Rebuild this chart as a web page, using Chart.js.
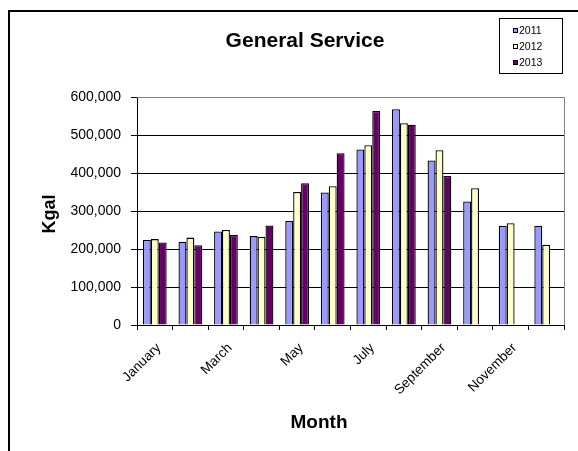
<!DOCTYPE html>
<html>
<head>
<meta charset="utf-8">
<script src="https://cdn.jsdelivr.net/npm/chart.js@4/dist/chart.umd.min.js"></script>
<style>
html,body{margin:0;padding:0;background:#fff;}
#wrap{position:relative;width:578px;height:451px;}
canvas{display:block;}
</style>
</head>
<body>
<div id="wrap"><canvas id="c" width="578" height="451"></canvas></div>
<script>
const months = ["January","February","March","April","May","June","July","August","September","October","November","December"];
const seriesNames = ["2011","2012","2013"];
const values2011 = [224000,219000,246000,234000,274000,349000,462000,568000,433000,325000,261000,261000];
const values2012 = [226000,230000,250000,232000,350000,365000,473000,531000,460000,360000,268000,211000];
const values2013 = [217000,210000,237000,262000,373000,452000,563000,527000,392000,null,null,null];
const yTicks = [0,100000,200000,300000,400000,500000,600000];
const colors = ["#9999FF","#FFFFCC","#660066"];

const FONT = "'Liberation Sans', Arial, sans-serif";

const decor = {
  id: 'decor',
  afterDraw(chart) {
    const ctx = chart.ctx;
    const a = chart.chartArea;
    ctx.save();
    ctx.strokeStyle = '#000';
    ctx.lineWidth = 2;
    ctx.beginPath();
    ctx.moveTo(9, 460); ctx.lineTo(9, 11); ctx.lineTo(590, 11);
    ctx.stroke();
    ctx.lineWidth = 1;
    ctx.strokeStyle = '#808080';
    ctx.beginPath();
    ctx.moveTo(a.left, a.top + 0.5); ctx.lineTo(a.right + 0.5, a.top + 0.5); ctx.lineTo(a.right + 0.5, a.bottom);
    ctx.stroke();
    ctx.fillStyle = '#000';
    ctx.font = "bold 21px " + FONT;
    ctx.textAlign = 'center';
    ctx.textBaseline = 'alphabetic';
    ctx.fillText('General Service', 305, 47);
    ctx.font = "bold 19px " + FONT;
    ctx.fillText('Month', 319, 428);
    ctx.save();
    ctx.translate(55, 214);
    ctx.rotate(-Math.PI / 2);
    ctx.font = "bold 18px " + FONT;
    ctx.fillText('Kgal', 0, 0);
    ctx.restore();
    ctx.strokeStyle = '#000';
    ctx.lineWidth = 1;
    ctx.strokeRect(499.5, 18.5, 63, 55);
    ctx.font = "10.5px " + FONT;
    ctx.textAlign = 'left';
    ctx.textBaseline = 'middle';
    chart.data.datasets.forEach((ds, i) => {
      const y = 31 + i * 16;
      ctx.fillStyle = ds.backgroundColor;
      ctx.fillRect(513, y - 3, 5, 5);
      ctx.strokeStyle = '#000';
      ctx.strokeRect(513.5, y - 2.5, 4, 4);
      ctx.fillStyle = '#000';
      ctx.fillText(ds.label, 519, y + 0.5);
    });
    ctx.restore();
  }
};

new Chart(document.getElementById('c'), {
  type: 'bar',
  data: {
    labels: months,
    datasets: [
      {label: seriesNames[0], data: values2011, backgroundColor: colors[0], borderColor: '#000', borderWidth: 1.3},
      {label: seriesNames[1], data: values2012, backgroundColor: colors[1], borderColor: '#000', borderWidth: 1.3},
      {label: seriesNames[2], data: values2013, backgroundColor: colors[2], borderColor: '#000', borderWidth: 1.3}
    ]
  },
  options: {
    responsive: false,
    animation: false,
    devicePixelRatio: 1,
    layout: {padding: {top: 97, right: 14, left: 0, bottom: 0}},
    datasets: {bar: {categoryPercentage: 0.667, barPercentage: 1.0}},
    plugins: {legend: {display: false}, title: {display: false}, tooltip: {enabled: false}},
    scales: {
      x: {
        afterFit(s) { s.height = 126; },
        grid: {display: true, drawOnChartArea: false, drawTicks: true, tickLength: 5, color: '#000', offset: true},
        border: {color: '#000', width: 1},
        ticks: {
          autoSkip: false, minRotation: 45, maxRotation: 45, padding: 10, labelOffset: 4,
          color: '#000', font: {family: FONT, size: 13.5},
          callback: function(v, i) { return i % 2 === 0 ? months[i] : ''; }
        }
      },
      y: {
        min: 0, max: 600000,
        afterFit(s) { s.width = 137; },
        afterBuildTicks(s) { s.ticks = yTicks.map(v => ({value: v})); },
        grid: {
          color: (c) => (c.tick && c.tick.value === 600000) ? '#808080' : '#000',
          tickColor: '#000',
          tickLength: 6, drawTicks: true
        },
        border: {color: '#000', width: 1},
        ticks: {
          padding: 10, color: '#000', font: {family: FONT, size: 14},
          callback: (v) => Number(v).toLocaleString('en-US')
        }
      }
    }
  },
  plugins: [decor]
});
</script>
</body>
</html>
